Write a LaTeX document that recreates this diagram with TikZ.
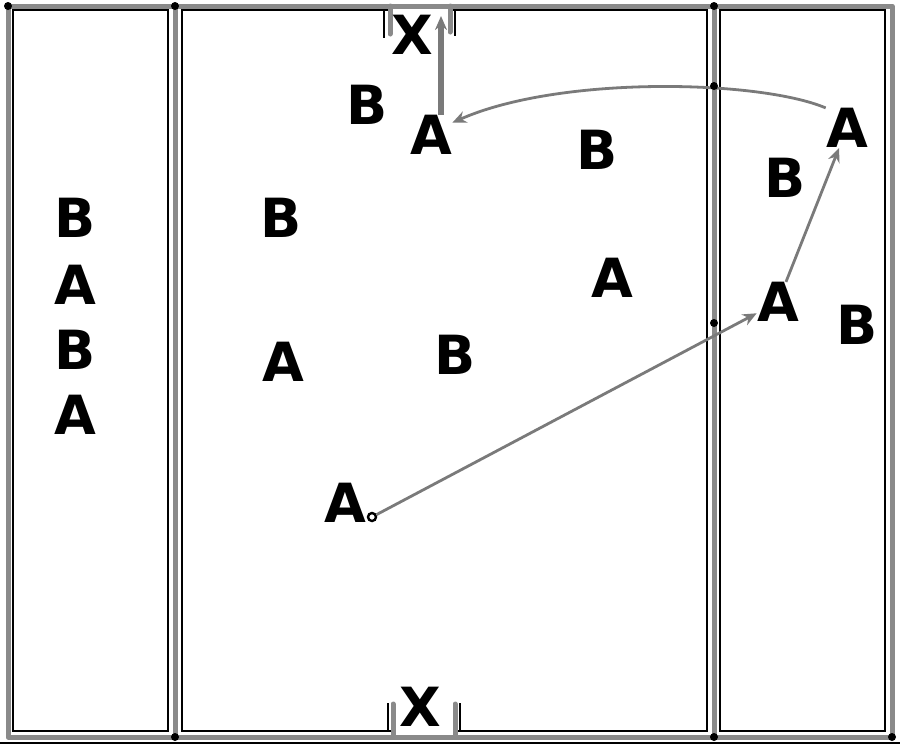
\documentclass[tikz,border=0pt]{standalone}
\usepackage{fontspec}
\setmainfont{DejaVu Sans}
\usetikzlibrary{arrows.meta}
\definecolor{mylinecolor}{HTML}{8a8a8a}
\definecolor{myarrowcolor}{HTML}{7a7a7a}

\tikzset{
  player/.style={inner sep=0pt, font=\fontsize{27pt}{27pt}\bfseries\selectfont},
  fieldline/.style={draw=mylinecolor, line width=2.5pt, line cap=round, line join=round},
  innerline/.style={draw=black, line width=0.6pt},
  move/.style={draw=myarrowcolor, line width=1.4pt, -{Stealth[length=7pt, width=6pt]}},
  joint/.style={fill=black}
}

\begin{document}
\begin{tikzpicture}[x=0.5pt, y=-0.5pt]%
\useasboundingbox (0,0) rectangle (900,746);%
% inner lines of the three zones
\draw[innerline] (13,10) rectangle (168,731);%
\draw[innerline] (182,10) rectangle (707,731);%
\draw[innerline] (720,10) rectangle (885,731);%
\draw[innerline] (0,743) -- (900,743);%
% goals
\fill[white] (391,8) rectangle (449,13);%
\fill[white] (394,728) rectangle (454,734);%
\draw[innerline] (384,10) -- (384,38);%
\draw[innerline] (455,10) -- (455,36);%
\draw[innerline] (388,731) -- (388,703);%
\draw[innerline] (460,731) -- (460,703);%
% field lines
\draw[fieldline] (8,6) rectangle (892,737);%
\draw[fieldline] (175,6) -- (175,737);%
\draw[fieldline] (714,6) -- (714,737);%
\draw[fieldline] (390,6) -- (390,34);%
\draw[fieldline] (450,6) -- (450,32);%
\draw[fieldline] (393,737) -- (393,704);%
\draw[fieldline] (455,737) -- (455,704);%
\foreach \px/\py in {8/6, 175/6, 714/6, 175/737, 714/737, 892/737}
  \fill[joint] (\px,\py) circle (4);%
% bench
\node[player] (bB1) at (75,218) {B};%
\node[player] (bA1) at (75,285) {A};%
\node[player] (bB2) at (75,350) {B};%
\node[player] (bA2) at (75,415) {A};%
% middle zone
\node[player] (mB1) at (367,105) {B};%
\node[player] (mA1) at (431,135) {A};%
\node[player] (mB2) at (597,150) {B};%
\node[player] (mB3) at (281,218) {B};%
\node[player] (mA2) at (612,278) {A};%
\node[player] (mA3) at (283,362) {A};%
\node[player] (mB4) at (455,355) {B};%
\node[player] (mA4) at (345,503) {A};%
\node[draw, circle, line width=1.2pt, inner sep=0pt, minimum size=4pt] (ball) at (372,517) {};%
% goals
\node[player] (topX) at (412,35) {X};%
\node[player] (botX) at (420,707) {X};%
% right zone
\node[player] (rA2) at (847,128) {A};%
\node[player] (rB1) at (785,178) {B};%
\node[player] (rA1) at (778,302) {A};%
\node[player] (rB2) at (857,325) {B};%
% runs and passes
\coordinate (runend) at (441,16);%
\draw[move] (ball) -- (rA1);%
\draw[move] (rA1) -- (rA2);%
\draw[move] (rA2.north west) .. controls (760,80) and (560,75) .. (mA1.30);%
\draw[move, line width=3pt] (runend |- mA1.north) -- (runend);%
\fill[joint] (714,323) circle (4);%
\fill[joint] (714,86) circle (4);%
\end{tikzpicture}
\end{document}
